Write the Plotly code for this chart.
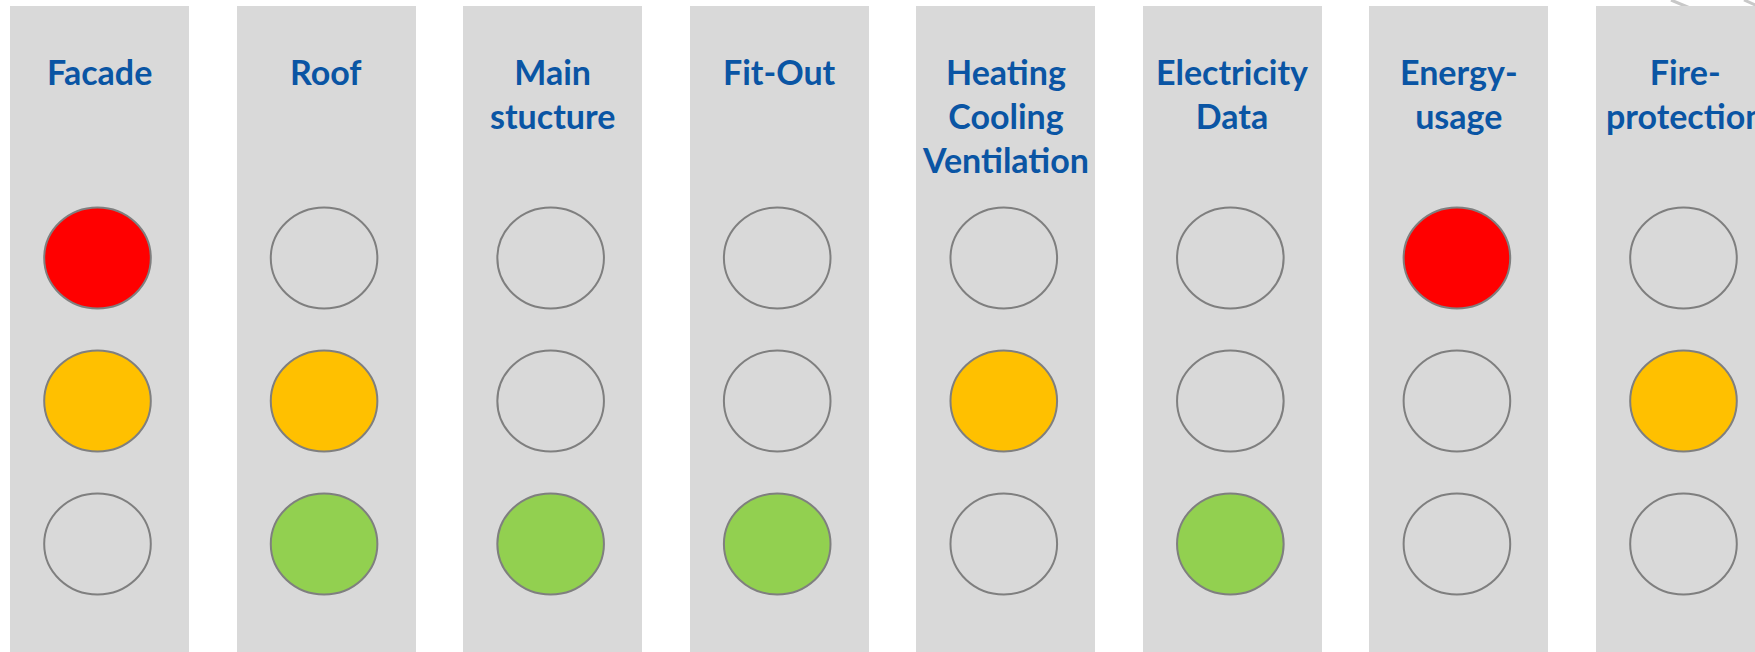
import plotly.graph_objects as go

# ---- data ----
categories = ["Facade", "Roof", "Main<br>stucture", "Fit-Out",
              "Heating<br>Cooling<br>Ventilation", "Electricity<br>Data",
              "Energy-<br>usage", "Fire-<br>protection"]
lights = ["Red", "Amber", "Green"]
red_on = [1, 0, 0, 0, 0, 0, 1, 0]
amber_on = [1, 1, 0, 0, 1, 0, 0, 1]
green_on = [0, 1, 1, 1, 0, 1, 0, 0]

# ---- styling / geometry ----
W, H = 1755, 652
PITCH = 226.57           # px between panel centres
C0 = 99.5                # px centre of first panel
ROW0, ROWP = 258.0, 143.0  # px centre of first light row, row pitch
PANEL_W = 179.0
PANEL_TOP = 5.5
RX, RY = 53.3, 50.5
panel_color = "#D9D9D9"
on_colors = {"Red": "#FF0000", "Amber": "#FFC000", "Green": "#92D050"}
text_color = "#0A55A4"
outline = "#7F7F7F"

xr = [-C0 / PITCH, (W - C0) / PITCH]
yr = [(H - ROW0) / ROWP, -ROW0 / ROWP]

n = len(categories)
idx = list(range(n))
top_val = (PANEL_TOP - ROW0) / ROWP

fig = go.Figure()
fig.add_trace(go.Bar(
    x=idx, y=[yr[0] - top_val + 0.5] * n, base=[top_val] * n,
    width=PANEL_W / PITCH, marker=dict(color=panel_color, line=dict(width=0)),
    hoverinfo="skip", showlegend=False))

states = {"Red": red_on, "Amber": amber_on, "Green": green_on}
shapes = []
# faint decoration strokes top-right
shapes.append(dict(type="line", xref="paper", yref="paper", layer="below",
                   x0=1671 / W, y0=1 - 0 / H, x1=1690 / W, y1=1 - 8 / H,
                   line=dict(color="#C8C8C8", width=3)))
shapes.append(dict(type="line", xref="paper", yref="paper", layer="below",
                   x0=1744 / W, y0=1 - 0 / H, x1=1760 / W, y1=1 - 7 / H,
                   line=dict(color="#C8C8C8", width=3)))
dx = -2.0 / PITCH
for r, name in enumerate(lights):
    vals = states[name]
    for i in idx:
        fill = on_colors[name] if vals[i] else "rgba(0,0,0,0)"
        shapes.append(dict(
            type="circle", xref="x", yref="y", layer="above",
            x0=i + dx - RX / PITCH, x1=i + dx + RX / PITCH,
            y0=r - RY / ROWP, y1=r + RY / ROWP,
            fillcolor=fill, line=dict(color=outline, width=2)))

annotations = []
for i, c in enumerate(categories):
    annotations.append(dict(
        x=i, y=(49 - ROW0) / ROWP, xref="x", yref="y", text="<b>" + c + "</b>",
        showarrow=False, xanchor="center", yanchor="top", align="center",
        font=dict(family="Lato", size=34, color=text_color)))

fig.update_layout(
    width=W, height=H, margin=dict(l=0, r=0, t=0, b=0),
    paper_bgcolor="white", plot_bgcolor="white",
    xaxis=dict(range=xr, visible=False, fixedrange=True),
    yaxis=dict(range=yr, visible=False, fixedrange=True),
    shapes=shapes, annotations=annotations, bargap=0, showlegend=False)

fig.write_html("out.html", config={"displayModeBar": False})
